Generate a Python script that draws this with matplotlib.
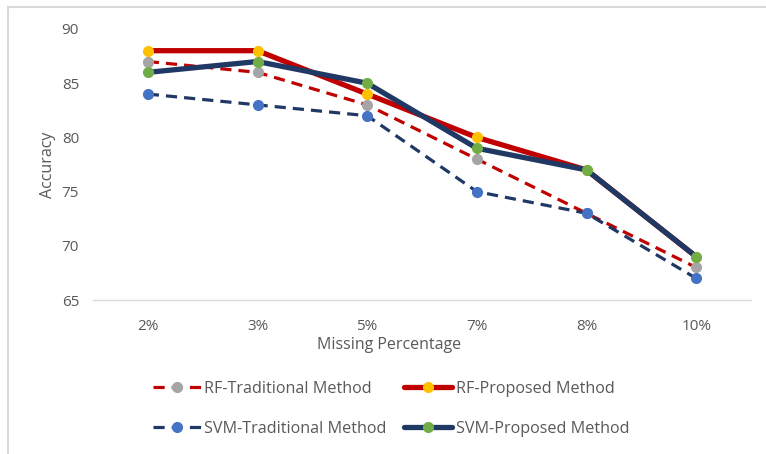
import matplotlib
matplotlib.use("Agg")
import matplotlib.pyplot as plt
from matplotlib.lines import Line2D

categories = ["2%", "3%", "5%", "7%", "8%", "10%"]
rf_traditional = [87, 86, 83, 78, 73, 68]
rf_proposed = [88, 88, 84, 80, 77, 69]
svm_traditional = [84, 83, 82, 75, 73, 67]
svm_proposed = [86, 87, 85, 79, 77, 69]
y_ticks = [65, 70, 75, 80, 85, 90]

plt.rcParams['font.family'] = ['Open Sans', 'DejaVu Sans']

fig = plt.figure(figsize=(7.66, 4.54), dpi=100)
ax = fig.add_axes([93/766, 1-300/454, (751-93)/766, (300-29)/454])

red = "#C00000"
navy = "#203864"
x = list(range(len(categories)))

h1, = ax.plot(x, rf_traditional, color=red, lw=2.3, ls=(0, (3.5, 2.2)), marker='o', ms=7,
              mfc="#A5A5A5", mec="#A5A5A5", label="RF-Traditional Method", zorder=3)
h2, = ax.plot(x, rf_proposed, color=red, lw=3.8, solid_capstyle='round', marker='o', ms=7,
              mfc="#FFC000", mec="#FFC000", label="RF-Proposed Method", zorder=3)
h3, = ax.plot(x, svm_traditional, color=navy, lw=2.3, ls=(0, (3.5, 2.2)), marker='o', ms=7,
              mfc="#4472C4", mec="#4472C4", label="SVM-Traditional Method", zorder=3)
h4, = ax.plot(x, svm_proposed, color=navy, lw=3.8, solid_capstyle='round', marker='o', ms=7,
              mfc="#70AD47", mec="#70AD47", label="SVM-Proposed Method", zorder=4)

ax.set_xlim(-0.5, len(categories)-0.5)
ax.set_ylim(65, 90)
ax.set_xticks(x)
ax.set_xticklabels(categories)
ax.set_yticks(y_ticks)
for s in ['top', 'right', 'left']:
    ax.spines[s].set_visible(False)
ax.spines['bottom'].set_color("#D9D9D9")
ax.spines['bottom'].set_linewidth(1.0)
ax.tick_params(axis='both', length=0, colors="#595959", labelsize=11)
ax.tick_params(axis='x', pad=14)
ax.tick_params(axis='y', pad=10)
ax.set_xlabel("Missing Percentage", fontsize=11.5, color="#595959")
ax.set_ylabel("Accuracy", fontsize=11.5, color="#595959")
ax.xaxis.label.set_verticalalignment('center')
ax.xaxis.set_label_coords((389-93)/658, -(345-300)/271)
ax.yaxis.label.set_verticalalignment('center')
ax.yaxis.set_label_coords(-(93-48)/658, (300-165)/271)

order = [h1, h3, h2, h4]
fig.legend(order, [h.get_label() for h in order], ncol=2, frameon=False, fontsize=11.6,
           loc='center left', bbox_to_anchor=(138/766, 1-409/454),
           handlelength=3.0, handletextpad=0.2, columnspacing=1.1,
           labelspacing=1.5, labelcolor="#595959")

# chart border (partially visible)
fig.add_artist(Line2D([8/766, 8/766], [0, 1-7/454], color="#D9D9D9", lw=1.5))
fig.add_artist(Line2D([8/766, 1], [1-7/454, 1-7/454], color="#D9D9D9", lw=1.5))

fig.savefig("out.png", dpi=100)
